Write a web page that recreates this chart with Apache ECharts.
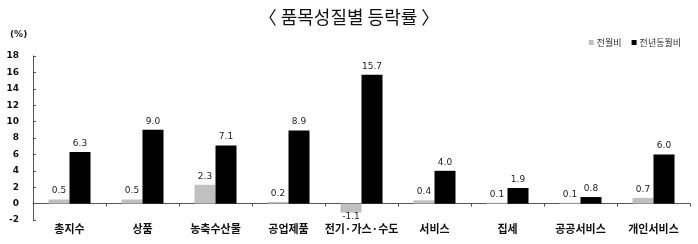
<!DOCTYPE html>
<html><head><meta charset="utf-8">
<script src="https://cdn.jsdelivr.net/npm/echarts@6/dist/echarts.min.js"></script>
<style>html,body{margin:0;padding:0;background:#fff}#c{width:698px;height:244px}</style>
</head><body><div id="c"></div>
<script>
const categories = ['총지수','상품','농축수산물','공업제품','전기·가스·수도','서비스','집세','공공서비스','개인서비스'];
const momValues = [0.5, 0.5, 2.3, 0.2, -1.1, 0.4, 0.1, 0.1, 0.7];
const yoyValues = [6.3, 9.0, 7.1, 8.9, 15.7, 4.0, 1.9, 0.8, 6.0];
const seriesNames = ['전월비', '전년동월비'];
const titleText = '〈 품목성질별 등락률 〉';
const unitText = '(%)';

const chart = echarts.init(document.getElementById('c'));
const lblFont = 'Noto Sans CJK KR';
const valLabel = {show:true, position:'top', distance:4, color:'#222', fontSize:9, fontFamily:'DejaVu Sans',
  formatter: p => Number(p.value).toFixed(1)};
chart.setOption({
  animation:false,
  title:{text:titleText, left:'center', top:3, textStyle:{fontFamily:'Noto Sans CJK KR', fontSize:18, fontWeight:'normal', color:'#111'}},
  legend:{right:12, top:33, itemWidth:5, itemHeight:5, itemGap:10, icon:'rect',
    textStyle:{fontSize:9, color:'#333', fontFamily:lblFont, padding:[0,0,0,-2]}, data:seriesNames},
  graphic:[{type:'text', left:10, top:30, style:{text:unitText, font:'bold 9px DejaVu Sans', fill:'#222'}}],
  grid:{left:33, right:8, top:56, bottom:24, containLabel:false, outerBoundsMode:'none'},
  xAxis:{type:'category', data:categories,
    axisLine:{onZero:true, lineStyle:{color:'#555'}},
    axisTick:{show:true, length:3, lineStyle:{color:'#555'}},
    axisLabel:{margin:3, fontSize:11, fontWeight:'bold', color:'#111', fontFamily:lblFont, interval:0}},
  yAxis:{type:'value', min:-2, max:18, interval:2,
    axisLine:{show:true, lineStyle:{color:'#555'}},
    axisTick:{show:true, inside:true, length:3, lineStyle:{color:'#555'}},
    splitLine:{show:false},
    axisLabel:{margin:14, fontSize:9, fontWeight:'bold', color:'#111', fontFamily:'DejaVu Sans'}},
  series:[
    {name:seriesNames[0], type:'bar', barWidth:21, barGap:'0%', itemStyle:{color:'#c0c0c0'},
      data: momValues.map(v => v < 0 ? {value:v, label:{position:'bottom', distance:0}} : v),
      label:valLabel},
    {name:seriesNames[1], type:'bar', data:yoyValues, barWidth:21, itemStyle:{color:'#000'}, label:valLabel}
  ]
});
</script></body></html>
